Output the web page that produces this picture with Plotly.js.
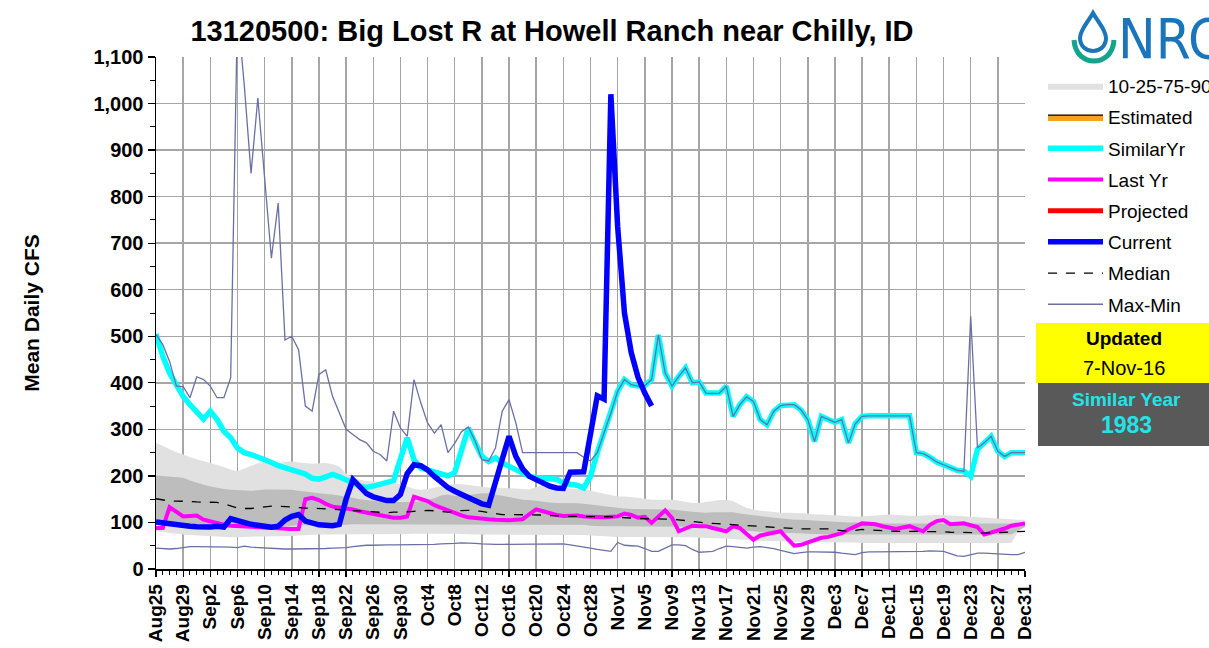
<!DOCTYPE html>
<html>
<head>
<meta charset="utf-8">
<script src="https://cdn.plot.ly/plotly-3.0.1.min.js"></script>
<style>
  html, body { margin: 0; padding: 0; background: #ffffff; }
  #chart { width: 1209px; height: 648px; }
</style>
</head>
<body>
<div id="chart"></div>
<script>
// ---------- DATA (daily, Aug 25 .. Dec 31) ----------
const tickLabels = ["Aug25","Aug29","Sep2","Sep6","Sep10","Sep14","Sep18","Sep22","Sep26","Sep30",
  "Oct4","Oct8","Oct12","Oct16","Oct20","Oct24","Oct28","Nov1","Nov5","Nov9","Nov13","Nov17",
  "Nov21","Nov25","Nov29","Dec3","Dec7","Dec11","Dec15","Dec19","Dec23","Dec27","Dec31"];

const currentValues = [101,99,96,94,93,92,91,90,90,92,90,108,103,99,96,94,92,90,92,105,113,117,103,98,95,94,93,96,
  150,192,177,162,155,151,147,147,160,205,224,222,213,199,187,175,167,160,153,146,140,137,185,230,285,242,215,199,
  191,184,178,174,173,208,208,209,290,372,365,1020,735,550,465,412,378,350];

const similarYrValues = [505,457,421,393,371,353,339,322,339,321,296,282,260,250,246,241,236,229,222,218,214,209,
  204,195,193,198,203,198,190,185,178,175,178,182,186,190,236,282,235,217,213,209,204,200,207,257,303,271,242,231,
  239,228,221,214,207,199,196,196,194,193,185,182,180,174,199,250,292,335,382,407,396,393,394,407,503,421,393,414,
  432,400,402,378,377,378,393,328,353,370,360,321,310,339,351,353,353,342,321,274,328,321,315,321,271,312,328,329,
  329,329,329,329,329,329,250,248,240,230,224,218,212,210,199,257,271,285,253,242,250,250,250];

const lastYrValues = [88,88,133,123,113,114,115,106,102,99,95,93,92,92,91,90,88,87,86,86,86,86,150,153,148,140,134,
  132,131,128,124,121,118,114,112,110,110,113,155,150,146,137,131,127,120,115,111,109,107,107,106,105,105,106,107,
  118,128,124,119,116,114,115,115,113,112,112,111,112,113,119,116,110,112,99,112,126,110,81,87,93,92,92,88,84,81,
  92,88,75,63,72,75,78,81,65,50,52,57,63,67,69,73,77,85,92,98,97,96,92,88,86,89,92,86,81,95,103,105,96,97,98,94,
  90,74,78,81,87,93,95,98];

const medianValues = [151,149,146,146,146,145,144,144,144,143,140,135,131,130,130,132,134,135,135,134,133,131,131,
  131,130,130,129,128,127,126,125,124,123,122,121,122,122,123,124,125,126,125,123,122,125,126,126,125,124,121,119,
  117,117,117,117,117,117,116,115,114,114,113,113,113,113,112,112,112,111,110,109,108,108,108,107,107,107,106,104,
  102,100,99,98,97,97,96,94,93,93,92,91,90,88,87,86,86,86,86,86,86,84,82,81,83,85,84,83,82,82,81,81,81,81,81,80,
  80,80,79,79,79,78,78,77,77,78,79,80,81,81];

const maxValues = [504,482,446,393,392,368,413,407,393,368,368,411,1200,1040,850,1012,840,668,786,492,500,471,350,
  339,418,428,371,335,300,289,278,271,253,246,232,339,303,285,407,357,314,292,310,250,270,295,305,275,235,232,260,
  339,364,314,250,250,250,250,250,250,250,250,250,240,232,250,292,335,382,407,396,393,394,407,503,421,393,414,432,
  400,402,378,377,378,393,328,353,370,360,321,310,339,351,353,353,342,321,274,328,321,315,321,271,312,328,329,329,
  329,329,329,329,329,250,248,240,230,224,218,212,210,543,260,271,285,253,242,250,250,250];

const minValues = [45,44,43,44,46,48,48,48,48,48,48,47,46,49,47,46,46,45,44,43,43,43,44,44,43,44,45,45,46,48,50,51,
  51,52,52,52,52,52,52,52,52,53,54,54,55,56,56,55,54,53,53,53,53,54,54,54,54,54,54,54,54,52,50,48,45,42,40,38,57,
  51,50,49,44,38,38,45,52,52,50,42,36,37,38,44,49,48,47,45,47,48,46,44,40,36,33,35,37,37,37,37,36,34,32,31,35,37,
  37,37,37,37,37,37,38,38,39,39,38,33,28,27,31,34,34,33,33,32,31,31,36];

const p90Values = [271,264,257,251,246,240,236,232,228,224,219,214,210,216,222,227,231,229,228,230,231,229,227,226,
  227,228,225,220,205,196,192,189,188,187,186,184,182,178,172,170,172,175,178,180,183,182,180,178,176,175,174,174,
  174,173,172,171,176,181,179,176,174,173,172,171,168,165,161,158,156,156,155,153,151,149,149,149,149,147,144,142,
  142,144,146,148,148,146,138,131,128,125,124,122,121,121,121,120,119,117,117,116,115,114,114,113,113,114,115,116,
  117,116,115,114,114,115,116,116,116,115,114,114,113,112,111,110,109,108,107,106,106];

const p75Values = [201,200,198,197,196,190,185,181,177,174,172,170,169,168,168,169,171,171,171,171,170,168,166,164,
  162,161,160,158,156,153,150,148,146,145,144,144,144,144,144,146,148,152,158,160,157,157,159,161,163,163,160,157,
  154,151,149,148,146,145,143,142,142,142,141,140,139,137,135,133,131,130,129,129,128,128,128,128,128,126,124,123,
  122,121,122,122,123,122,119,117,115,114,112,110,109,107,106,106,105,105,104,103,102,101,100,100,99,99,99,98,98,
  98,98,98,98,98,98,98,98,99,99,99,99,99,98,98,98,98,98,98,98,98];

const p25Values = [98,97,96,95,93,93,92,92,92,92,92,92,92,92,92,92,92,93,93,93,93,94,94,94,95,95,95,95,95,96,96,96,
  96,96,96,96,96,96,96,96,96,96,96,96,96,96,96,96,96,96,96,96,96,96,96,96,96,96,96,96,96,96,96,95,93,92,92,92,92,
  92,92,92,92,92,92,92,92,91,91,91,91,90,89,89,88,86,84,82,81,80,80,79,78,78,77,77,76,75,74,74,74,74,74,74,74,74,
  74,74,74,74,74,74,74,74,74,74,74,74,74,74,74,74,74,74,74,74,74];

const p10Values = [81,79,77,76,74,73,72,71,70,69,69,68,68,69,70,70,70,70,70,70,71,72,73,73,74,74,74,74,74,74,74,74,
  74,74,74,75,75,75,76,76,76,77,77,77,76,75,74,74,74,74,74,74,74,74,74,74,74,74,74,74,74,74,74,73,72,71,70,70,69,
  69,69,69,69,69,69,69,69,68,68,68,67,67,67,66,65,64,63,62,61,61,60,60,59,59,58,58,58,58,58,58,58,57,57,57,56,56,
  56,56,56,56,56,56,56,56,56,56,56,56,56,56,56,56,56,56,56,56,56];

const estimatedValues = [null];
const projectedValues = [null];

const similarYear = "1983";
const updatedText = "7-Nov-16";

// ---------- BUILD ----------
const idx = arr => arr.map((_, i) => i);
const FONT = "Liberation Sans, Arial, sans-serif";

// pixel -> paper helpers for decoration placed outside the plot
const L = 156, R = 184, T = 57, B = 79, W = 1209, H = 648;
const PW = W - L - R, PH = H - T - B;
const px = x => (x - L) / PW;
const py = y => (H - B - y) / PH;

const traces = [
  { x: idx(p10Values), y: p10Values, type: "scatter", mode: "lines", line: { width: 0, color: "#e1e1e1" },
    showlegend: false, hoverinfo: "skip", legendgroup: "g1" },
  { x: idx(p90Values), y: p90Values, type: "scatter", mode: "lines", line: { width: 0, color: "#e1e1e1" },
    fill: "tonexty", fillcolor: "#e1e1e1", name: "10-25-75-90", legendrank: 1, legendgroup: "g1" },
  { x: idx(p25Values), y: p25Values, type: "scatter", mode: "lines", line: { width: 0, color: "#bdbdbd" },
    showlegend: false, hoverinfo: "skip", legendgroup: "g1" },
  { x: idx(p75Values), y: p75Values, type: "scatter", mode: "lines", line: { width: 0, color: "#bdbdbd" },
    fill: "tonexty", fillcolor: "#bdbdbd", showlegend: false, legendgroup: "g1" },
  { x: idx(estimatedValues), y: estimatedValues, type: "scatter", mode: "lines", fill: "tonexty",
    fillcolor: "#f7a21b", name: "Estimated", legendrank: 2, legendgroup: "g2",
    line: { color: "#000000", width: 1.2 } },
  { x: idx(similarYrValues), y: similarYrValues, type: "scatter", mode: "lines", name: "SimilarYr", legendrank: 3,
    legendgroup: "g3", line: { color: "#00ffff", width: 5.5 } },
  { x: idx(lastYrValues), y: lastYrValues, type: "scatter", mode: "lines", name: "Last Yr", legendrank: 4,
    legendgroup: "g4", line: { color: "#ff00ff", width: 4 } },
  { x: idx(projectedValues), y: projectedValues, type: "scatter", mode: "lines", name: "Projected", legendrank: 5,
    legendgroup: "g5", line: { color: "#ff0000", width: 5 } },
  { x: idx(medianValues), y: medianValues, type: "scatter", mode: "lines", name: "Median", legendrank: 7,
    legendgroup: "g7", line: { color: "#000000", width: 1.3, dash: "dash" } },
  { x: idx(maxValues), y: maxValues, type: "scatter", mode: "lines", name: "Max-Min", legendrank: 8,
    legendgroup: "g8", line: { color: "#6c6fa6", width: 1.3 } },
  { x: idx(minValues), y: minValues, type: "scatter", mode: "lines", showlegend: false, legendgroup: "g8",
    line: { color: "#6c6fa6", width: 1.3 } },
  { x: idx(currentValues), y: currentValues, type: "scatter", mode: "lines", name: "Current", legendrank: 6,
    legendgroup: "g6", line: { color: "#0000ff", width: 5.5 } }
];

const tickVals = tickLabels.map((_, i) => i * 4);

const P = (x, y) => px(x) + "," + py(y);
const dropPath = "M" + P(1093, 13) + " C" + P(1088, 22) + " " + P(1080, 30) + " " + P(1080, 38) +
    " C" + P(1080, 46) + " " + P(1086, 51) + " " + P(1093, 51) +
    " C" + P(1100, 51) + " " + P(1106, 46) + " " + P(1106, 38) +
    " C" + P(1106, 30) + " " + P(1098, 22) + " " + P(1093, 13) + " Z";
const arcPath = "M" + P(1074, 40) + " C" + P(1075, 55) + " " + P(1085, 61) + " " + P(1094, 61) +
    " C" + P(1103, 61) + " " + P(1113, 55) + " " + P(1114, 40);

const layout = {
  width: W, height: H,
  margin: { l: L, r: R, t: T, b: B, autoexpand: false },
  paper_bgcolor: "#ffffff", plot_bgcolor: "#ffffff",
  font: { family: FONT, color: "#000000" },
  title: { text: "<b>13120500: Big Lost R at Howell Ranch near Chilly, ID</b>",
    font: { family: FONT, size: 29, color: "#000000" },
    x: 552 / W, xref: "container", xanchor: "center", y: 1 - 31 / H, yref: "container", yanchor: "middle" },
  showlegend: true,
  xaxis: {
    range: [0, tickVals[tickVals.length - 1]], tickmode: "array", tickvals: tickVals, ticktext: tickLabels,
    tickangle: -90, tickfont: { family: FONT, size: 19, color: "#000000", weight: "bold" },
    showgrid: true, gridcolor: "#a6a6a6", gridwidth: 1.5, zeroline: false,
    showline: true, linecolor: "#000000", linewidth: 1.5,
    ticks: "outside", ticklen: 6, tickcolor: "#000000", tickwidth: 1.2,
    minor: { dtick: 1, tick0: 0, ticks: "outside", ticklen: 4, tickcolor: "#000000", tickwidth: 1, showgrid: false },
    fixedrange: true
  },
  yaxis: {
    range: [0, 1100], dtick: 100, tick0: 0, tickformat: ",",
    tickfont: { family: FONT, size: 20, color: "#000000", weight: "bold" },
    title: { text: "<b>Mean Daily CFS</b>", font: { family: FONT, size: 21, color: "#000000" }, standoff: 48 },
    showgrid: true, gridcolor: "#a6a6a6", gridwidth: 1.5, zeroline: false,
    showline: true, linecolor: "#000000", linewidth: 1.5,
    ticks: "outside", ticklen: 7, tickcolor: "#000000", tickwidth: 1.2,
    minor: { dtick: 50, ticks: "outside", ticklen: 5, tickcolor: "#000000", tickwidth: 1, showgrid: false },
    fixedrange: true
  },
  legend: {
    x: px(1043), xanchor: "left", y: py(67), yanchor: "top",
    font: { family: FONT, size: 19, color: "#000000" },
    bgcolor: "rgba(0,0,0,0)", borderwidth: 0, tracegroupgap: 3.5, itemwidth: 55, traceorder: "grouped"
  },
  shapes: [
    { type: "path", xref: "paper", yref: "paper", path: dropPath, line: { color: "#1b75bb", width: 4 }, fillcolor: "#ffffff" },
    { type: "path", xref: "paper", yref: "paper", path: arcPath, line: { color: "#14a38b", width: 5 } },
    { type: "rect", xref: "paper", yref: "paper", x0: px(1036), x1: px(1215), y0: py(383), y1: py(323),
      fillcolor: "#ffff00", line: { width: 0 } },
    { type: "rect", xref: "paper", yref: "paper", x0: px(1038), x1: px(1215), y0: py(446), y1: py(383),
      fillcolor: "#595959", line: { width: 0 } }
  ],
  annotations: [
    { text: "NRCS", xref: "paper", yref: "paper", x: px(1116), y: py(38), xanchor: "left", yanchor: "middle",
      showarrow: false, font: { family: "Liberation Sans Narrow, DejaVu Sans Condensed, sans-serif", size: 56, color: "#1b75bb" } },
    { text: "<b>Updated</b>", xref: "paper", yref: "paper", x: px(1124), y: py(338), xanchor: "center", yanchor: "middle",
      showarrow: false, font: { family: FONT, size: 19, color: "#000000" } },
    { text: updatedText, xref: "paper", yref: "paper", x: px(1124), y: py(368), xanchor: "center", yanchor: "middle",
      showarrow: false, font: { family: FONT, size: 20, color: "#000000" } },
    { text: "<b>Similar Year</b>", xref: "paper", yref: "paper", x: px(1126), y: py(399), xanchor: "center", yanchor: "middle",
      showarrow: false, font: { family: FONT, size: 19, color: "#22e4e8" } },
    { text: "<b>" + similarYear + "</b>", xref: "paper", yref: "paper", x: px(1126), y: py(425), xanchor: "center", yanchor: "middle",
      showarrow: false, font: { family: FONT, size: 23, color: "#22e4e8" } }
  ]
};

Plotly.newPlot("chart", traces, layout, { displayModeBar: false, staticPlot: true });
</script>
</body>
</html>
